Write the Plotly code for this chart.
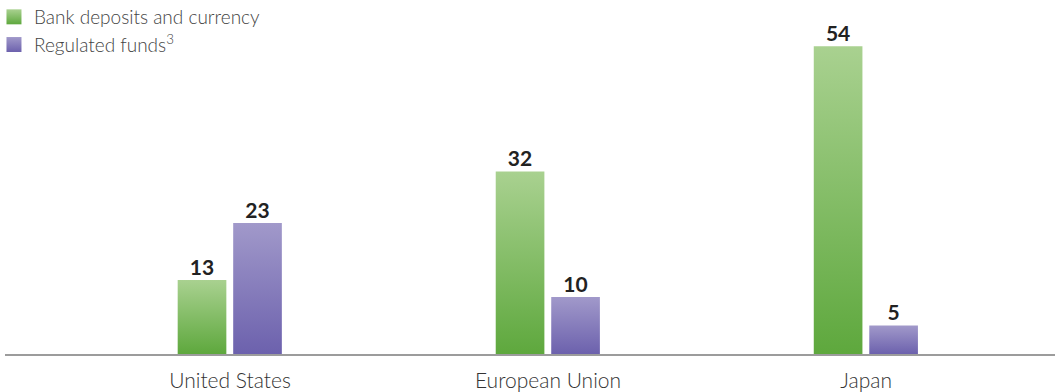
import plotly.graph_objects as go

# Data
categories = ["United States", "European Union", "Japan"]
bank_deposits = [13, 32, 54]
regulated_funds = [23, 10, 5]
series_names = ["Bank deposits and currency", "Regulated funds<sup>3</sup>"]

# Styling
GREEN_TOP, GREEN_BOTTOM = "#a9d190", "#5ea83d"
PURPLE_TOP, PURPLE_BOTTOM = "#a199ca", "#6c61ad"
FONT = "Lato, 'Noto Sans', sans-serif"
BAR_W = 0.153
OFFSETS = [-0.088, 0.0865]

fig = go.Figure()

series = [
    (series_names[0], bank_deposits, GREEN_TOP, GREEN_BOTTOM, OFFSETS[0]),
    (series_names[1], regulated_funds, PURPLE_TOP, PURPLE_BOTTOM, OFFSETS[1]),
]

for name, values, top, bottom, off in series:
    # one filled polygon per bar so each gets its own vertical gradient
    for i, v in enumerate(values):
        c = i + off
        x0, x1 = c - BAR_W / 2, c + BAR_W / 2
        fig.add_trace(go.Scatter(
            x=[x0, x0, x1, x1, x0],
            y=[0, v, v, 0, 0],
            mode="lines",
            line=dict(width=0),
            fill="toself",
            fillgradient=dict(type="vertical",
                              colorscale=[[0, bottom], [1, top]]),
            hoverinfo="skip",
            showlegend=False,
        ))
    # value labels
    fig.add_trace(go.Scatter(
        x=[i + off for i in range(len(values))],
        y=values,
        mode="text",
        text=[str(v) for v in values],
        textposition="top center",
        textfont=dict(family=FONT, size=21, color="#222222", weight="bold"),
        hoverinfo="skip",
        showlegend=False,
    ))
    # legend entry
    fig.add_trace(go.Scatter(
        x=[None], y=[None],
        mode="markers",
        name=name,
        marker=dict(symbol="square", size=15, color=top,
                    gradient=dict(type="vertical", color=bottom)),
        showlegend=True,
    ))

fig.update_layout(
    width=1055, height=392,
    margin=dict(l=5, r=0, t=12, b=38, autoexpand=False),
    paper_bgcolor="white",
    plot_bgcolor="white",
    font=dict(family=FONT, color="#444444"),
    showlegend=True,
    legend=dict(
        x=-0.0105, y=1.041, xanchor="left", yanchor="top",
        font=dict(family=FONT, size=19, color="#444444", weight=300),
        itemsizing="trace",
        tracegroupgap=0,
        bgcolor="rgba(0,0,0,0)",
    ),
    xaxis=dict(
        range=[-0.7075, 2.594],
        tickvals=list(range(len(categories))),
        ticktext=categories,
        tickfont=dict(family=FONT, size=21, color="#333333", weight=300),
        showgrid=False, zeroline=False,
        showline=True, linecolor="#9c9c9c", linewidth=2,
        ticks="", ticklabelstandoff=7,
    ),
    yaxis=dict(
        range=[0, 60],
        visible=False,
        showgrid=False, zeroline=False,
    ),
)

fig.write_html("out.html")
